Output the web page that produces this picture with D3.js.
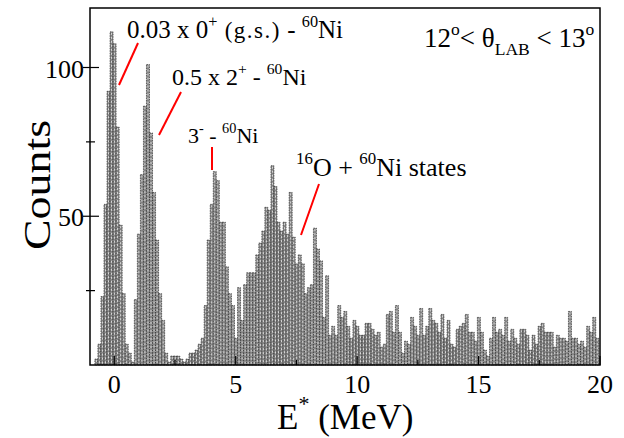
<!DOCTYPE html>
<html>
<head>
<script src="https://d3js.org/d3.v7.min.js"></script>
<style>
 body { margin: 0; background: #fff; }
 svg { display: block; font-family: "Liberation Serif", "DejaVu Serif", serif; }
</style>
</head>
<body>
<svg width="624" height="438"></svg>
<script>
// histogram: E* bins of 0.125 MeV starting at -0.8 MeV
const binStart = -0.8;
const binWidth = 0.125;
const counts = [
  2, 7, 23, 54, 92, 112, 108, 80, 47, 24, 7, 4, 1, 22, 44, 64, 87, 101, 78, 58, 42, 24, 15, 4, 1, 3, 3, 3, 2, 1, 2, 4,
  4, 5, 7, 9, 20, 42, 54, 65, 62, 48, 48, 33, 24, 20, 9, 26, 15, 27, 31, 31, 31, 37, 41, 45, 53, 52, 67, 60, 48, 45, 48, 44, 58,
  43, 34, 37, 34, 24, 26, 27, 46, 39, 35, 16, 30, 10, 13, 10, 20, 16, 18, 13, 9, 15, 13, 10, 10, 14, 14, 12, 10, 11, 6, 7, 17, 18,
  11, 20, 11, 4, 8, 7, 16, 13, 10, 19, 10, 13, 19, 15, 14, 11, 17, 9, 15, 7, 6, 12, 13, 14, 17, 11, 11, 8, 16, 11, 5, 3, 9, 16,
  11, 12, 10, 16, 8, 12, 9, 7, 12, 12, 10, 5, 10, 7, 13, 14, 11, 11, 11, 6, 10, 9, 9, 8, 18, 9, 9, 7, 8, 6, 13, 11, 16, 9
];
const xTicks = [0, 5, 10, 15, 20];
const yTicks = [50, 100];

const svg = d3.select("svg");
const x = d3.scaleLinear().domain([-1, 20]).range([90, 600]);
const y = d3.scaleLinear().domain([0, 120]).range([365, 8]);

const bins = counts.map((c, i) => ({x0: binStart + i * binWidth, c: c}));

// x ticks drawn first, bars sit on top
const tg = svg.append("g").attr("stroke", "#000").attr("stroke-width", 1.2);
d3.range(0, 20.01, 2.5).forEach(t => {
  const major = t % 5 === 0;
  tg.append("line").attr("x1", x(t)).attr("x2", x(t))
    .attr("y1", y(0)).attr("y2", y(0) - (major ? 9 : 5));
});

// bars
const bars = svg.append("g");
bars.selectAll("rect").data(bins).join("rect")
  .attr("x", d => x(d.x0))
  .attr("y", d => y(d.c))
  .attr("width", d => x(d.x0 + binWidth) - x(d.x0))
  .attr("height", d => y(0) - y(d.c))
  .attr("fill", "#858585")
  .attr("stroke", "#1e1e1e")
  .attr("stroke-width", 0.6)
  .attr("stroke-dasharray", "1.5,1");
bars.selectAll("line").data(bins).join("line")
  .attr("x1", d => x(d.x0 + binWidth / 2))
  .attr("x2", d => x(d.x0 + binWidth / 2))
  .attr("y1", d => y(d.c) + 1)
  .attr("y2", y(0))
  .attr("stroke", "#fff")
  .attr("stroke-width", 0.7)
  .attr("stroke-dasharray", "2,2");

// frame
svg.append("rect").attr("x", 90).attr("y", 8).attr("width", 510).attr("height", 357)
  .attr("fill", "none").attr("stroke", "#000").attr("stroke-width", 1.5);

// y ticks
d3.range(25, 120, 25).forEach(t => {
  const major = t % 50 === 0;
  tg.append("line").attr("x1", 90 - (major ? 7 : 4)).attr("x2", 90 + (major ? 9 : 5))
    .attr("y1", y(t)).attr("y2", y(t));
});
svg.node().appendChild(tg.node());

svg.append("g").selectAll("text").data(yTicks).join("text")
  .attr("x", 84).attr("y", d => y(d) + 10)
  .attr("text-anchor", "end").attr("font-size", 26)
  .text(d => d);
svg.append("g").selectAll("text").data(xTicks).join("text")
  .attr("x", d => x(d)).attr("y", 393)
  .attr("text-anchor", "middle").attr("font-size", 26)
  .text(d => d);

// axis titles
svg.append("text").attr("transform", "translate(50,185) rotate(-90)")
  .attr("text-anchor", "middle").attr("font-size", 38)
  .attr("textLength", 130).attr("lengthAdjust", "spacingAndGlyphs")
  .text("Counts");
const xt = svg.append("text").attr("x", 277).attr("y", 429).attr("font-size", 35);
xt.append("tspan").text("E");
xt.append("tspan").attr("dy", -18).attr("font-size", 22).text("*");
xt.append("tspan").attr("dy", 18).text("  (MeV)");

// helper for labels with superscripts
function label(px, py, size, parts) {
  const t = svg.append("text").attr("x", px).attr("y", py).attr("font-size", size)
    .style("white-space", "pre");
  let shift = 0;
  parts.forEach(p => {
    const s = p.sup ? -Math.round(size * 0.45) : p.sub ? Math.round(size * 0.3) : 0;
    const ts = t.append("tspan").attr("dy", s - shift)
      .attr("font-size", p.sup || p.sub ? size * 0.65 : (p.size || size))
      .text(p.t);
    if (p.ls) ts.attr("letter-spacing", p.ls);
    shift = s;
  });
}

label(127, 38, 25, [{t: "0.03 x 0"}, {t: "+", sup: true}, {t: " (g.s.)", size: 23, ls: 1.5}, {t: " - "}, {t: "60", sup: true}, {t: "Ni"}]);
label(172, 85, 24, [{t: "0.5 x 2"}, {t: "+", sup: true}, {t: " - "}, {t: "60", sup: true}, {t: "Ni"}]);
label(188, 143, 22, [{t: "3"}, {t: "-", sup: true}, {t: " - "}, {t: "60", sup: true}, {t: "Ni"}]);
label(296, 176, 26, [{t: "16", sup: true}, {t: "O + "}, {t: "60", sup: true}, {t: "Ni states"}]);
label(424, 47, 27, [{t: "12"}, {t: "o", sup: true}, {t: "< θ"}, {t: "LAB", sub: true}, {t: " < 13"}, {t: "o", sup: true}]);

// red pointers
const pointers = [
  [138, 43, 119, 85],
  [181, 92, 159, 135],
  [212, 147, 212, 170],
  [319, 184, 301, 235]
];
svg.append("g").selectAll("line").data(pointers).join("line")
  .attr("x1", d => d[0]).attr("y1", d => d[1]).attr("x2", d => d[2]).attr("y2", d => d[3])
  .attr("stroke", "#f00").attr("stroke-width", 2);
</script>
</body>
</html>
